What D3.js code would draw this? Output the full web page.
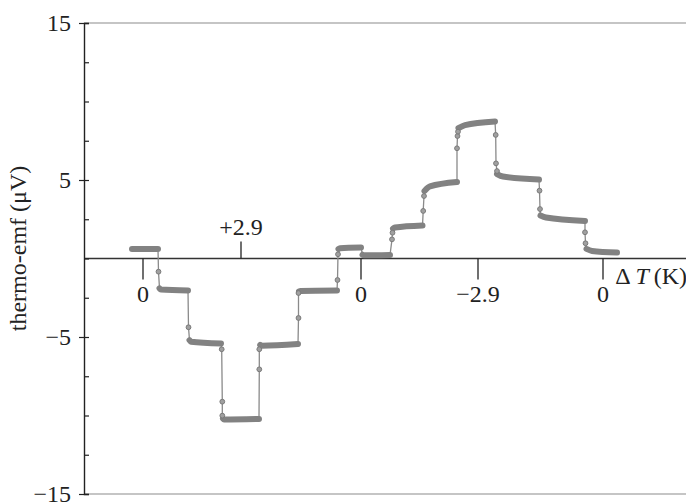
<!DOCTYPE html>
<html>
<head>
<meta charset="utf-8">
<script src="https://cdn.jsdelivr.net/npm/d3@7"></script>
<style>
  body { margin: 0; background: #fff; }
  svg, text { font-family: "Liberation Serif", "Times New Roman", Times, serif; }
</style>
</head>
<body>
<div id="chart"></div>
<script>
// time axis is arbitrary (sample time), emf in microvolt
// dense sections of the record: [time, emf]
var plateaus = [
  [[48, 0.6], [74, 0.6]],
  [[75.5, -1.9], [77, -1.98], [104, -2.04]],
  [[105.5, -5.2], [107, -5.3], [137, -5.41]],
  [[139, -10.2], [140, -10.25], [175, -10.22]],
  [[176.2, -5.5], [178, -5.55], [214, -5.45]],
  [[215, -2.1], [216.5, -2.07], [253, -2.04]],
  [[254.5, 0.6], [256, 0.66], [277, 0.7]],
  [[278.5, 0.24], [280, 0.2], [306, 0.22]],
  [[309, 1.9], [311, 1.97], [338.5, 2.1]],
  [[340.5, 4.3], [346, 4.59], [373, 4.87]],
  [[374.5, 8.3], [381, 8.5], [411, 8.73]],
  [[413, 5.38], [419, 5.22], [455, 5.03]],
  [[456.5, 2.74], [462, 2.61], [501, 2.39]],
  [[502.5, 0.61], [508, 0.48], [533, 0.38]]
];

// the few samples caught during each jump
var jumps = [
  [[74.5, -0.84]],
  [[104.5, -4.38]],
  [[137.7, -5.78], [138.3, -9.12], [138.3, -10.01]],
  [[175.3, -7.06], [175.3, -5.78]],
  [[214.5, -3.79], [214.5, -2.2]],
  [[253.5, -1.37], [254, 0.27]],
  [],
  [[308, 1.22], [308.5, 1.64]],
  [[339.2, 3.03], [340, 3.98]],
  [[373, 7.02], [373.5, 7.8], [374, 8.08]],
  [[411.7, 7.87], [412, 6.06], [413, 5.57]],
  [[455.5, 4.32], [456, 3.15]],
  [[501, 1.67], [501.5, 0.97]]
];

// delta T marks on the zero line
var markTimes = [59, 157, 277, 394, 519];
var markLabels = ["0", "+2.9", "0", "\u22122.9", "0"];
var markUp = [false, true, false, false, false];

var yMajor = [-15, -5, 5, 15];
var yMinor = [-12.5, -10, -7.5, -2.5, 0, 2.5, 7.5, 10, 12.5];

var fontSize = "24px";

var margin = { top: 23, right: 0, bottom: 10, left: 84 },
  width = 686 - margin.left - margin.right,
  height = 504 - margin.top - margin.bottom;

var svg = d3.select("#chart")
  .append("svg")
  .attr("width", 686)
  .attr("height", 504)
  .append("g")
  .attr("transform", "translate(" + margin.left + "," + margin.top + ")");

var x = d3.scaleLinear().domain([0, 602]).range([0, width]);
var y = d3.scaleLinear().domain([-15, 15]).range([height, 0]);

// top and bottom frame lines
svg.append("line")
  .attr("x1", 0).attr("x2", width).attr("y1", y(15)).attr("y2", y(15))
  .style("stroke", "#8c8c8c").style("stroke-width", 1.2);
svg.append("line")
  .attr("x1", 0).attr("x2", width).attr("y1", y(-15)).attr("y2", y(-15))
  .style("stroke", "#8c8c8c").style("stroke-width", 1.2);

// zero line
svg.append("line")
  .attr("x1", 0).attr("x2", width).attr("y1", y(0)).attr("y2", y(0))
  .style("stroke", "#333").style("stroke-width", 1.3);

// Y axis: ticks inside, majors also outside with labels
svg.append("g")
  .call(d3.axisRight(y).tickValues(yMajor.concat(yMinor)).tickSize(5).tickFormat(""))
  .call(function (g) { g.selectAll("line").style("stroke", "#222").style("stroke-width", 1.2); })
  .call(function (g) { g.select(".domain").style("stroke", "#222").style("stroke-width", 1.4); });

svg.append("g")
  .call(d3.axisLeft(y).tickValues(yMajor).tickSize(5).tickPadding(8))
  .attr("font-family", null)
  .call(function (g) { g.select(".domain").remove(); })
  .call(function (g) { g.selectAll("line").style("stroke", "#222").style("stroke-width", 1.2); })
  .call(function (g) {
    g.selectAll("text")
      .style("font-size", fontSize)
      .style("fill", "#222");
  });

// Y axis label
svg.append("text")
  .attr("transform", "rotate(-90)")
  .attr("x", -(y(0) - 10))
  .attr("y", -margin.left + 26)
  .attr("text-anchor", "middle")
  .style("font-size", fontSize)
  .style("fill", "#222")
  .text("thermo-emf (\u03bcV)");

// delta T marks
markTimes.forEach(function (t, i) {
  var up = markUp[i];
  svg.append("line")
    .attr("x1", x(t)).attr("x2", x(t))
    .attr("y1", y(0))
    .attr("y2", up ? y(0) - 17 : y(0) + 21)
    .style("stroke", "#222").style("stroke-width", 1.3);
  svg.append("text")
    .attr("x", x(t))
    .attr("y", up ? y(0) - 24 : y(0) + 43)
    .attr("text-anchor", "middle")
    .style("font-size", fontSize)
    .style("fill", "#222")
    .text(markLabels[i]);
});

// axis name  "ΔT (K)"
var axName = svg.append("text")
  .attr("x", width + 1)
  .attr("y", y(0) + 25)
  .attr("text-anchor", "end")
  .style("font-size", fontSize)
  .style("fill", "#222");
axName.append("tspan").text("\u0394\u2009");
axName.append("tspan").style("font-style", "italic").text("T");
axName.append("tspan").text("\u2009(K)");

// full record = plateau, jump, plateau, jump ...
var record = [];
plateaus.forEach(function (p, i) {
  record = record.concat(p);
  if (i < jumps.length) record = record.concat(jumps[i]);
});

var thin = d3.line()
  .x(function (d) { return x(d[0]); })
  .y(function (d) { return y(d[1]); });

svg.append("path")
  .datum(record)
  .attr("d", thin)
  .style("fill", "none")
  .style("stroke", "#8a8a8a")
  .style("stroke-width", 1.3);

// dense plateaus drawn as a thick band of overlapping dots
var band = d3.line()
  .curve(d3.curveMonotoneX)
  .x(function (d) { return x(d[0]); })
  .y(function (d) { return y(d[1]); });

svg.append("g")
  .selectAll("path")
  .data(plateaus)
  .enter()
  .append("path")
  .attr("d", band)
  .style("fill", "none")
  .style("stroke", "#828282")
  .style("stroke-width", 6)
  .style("stroke-linecap", "round")
  .style("stroke-linejoin", "round");

// sparse samples
var jumpPts = [].concat.apply([], jumps);
svg.append("g")
  .selectAll("circle")
  .data(jumpPts)
  .enter()
  .append("circle")
  .attr("cx", function (d) { return x(d[0]); })
  .attr("cy", function (d) { return y(d[1]); })
  .attr("r", 2.4)
  .style("fill", "#a0a0a0")
  .style("stroke", "#7a7a7a")
  .style("stroke-width", 1);
</script>
</body>
</html>
